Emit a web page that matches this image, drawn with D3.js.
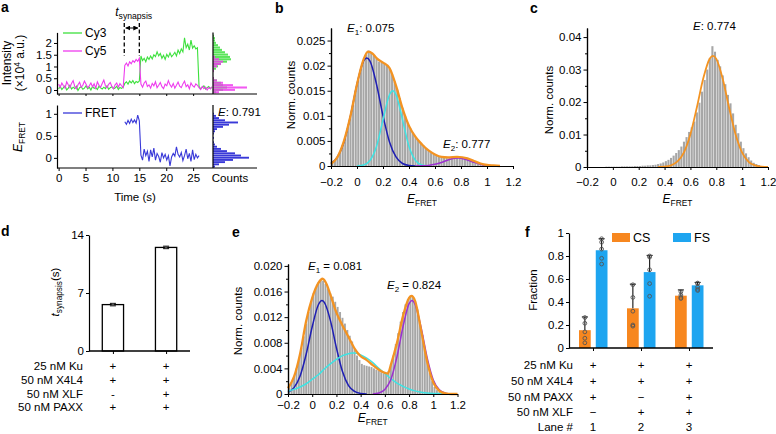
<!DOCTYPE html>
<html><head><meta charset="utf-8">
<script src="https://cdn.jsdelivr.net/npm/d3@7"></script>
<style>
body{margin:0;background:#fff;}
svg{font-family:"Liberation Sans",Arial,Helvetica,sans-serif;}
</style></head><body>
<svg id="fig" width="776" height="434"></svg>
<script>
// ================= DATA =================
// Panel a : single-molecule traces (frame interval in seconds)
const frameInterval = 0.3;
const cy3 = [0.05,0.15,0.02,0.10,0.18,0.00,0.08,0.20,0.04,0.12,0.06,0.16,-0.02,0.10,0.14,0.03,0.08,0.18,0.05,0.12,0.00,0.15,0.07,0.10,0.02,0.16,0.09,0.04,0.12,0.06,0.18,0.03,0.10,0.14,0.05,0.08,0.16,0.02,0.11,0.07,0.12,
 0.28,0.35,0.25,0.38,0.30,0.40,0.27,0.36,0.32,0.38,
 1.45,1.25,1.35,1.20,1.40,1.30,1.45,1.32,1.50,1.42,1.62,1.45,1.55,1.35,1.48,1.30,1.52,1.40,1.58,1.42,1.50,1.60,1.45,1.70,1.55,1.75,1.62,2.22,1.80,1.95,1.70,2.12,1.78,1.88,1.75,1.80,
 0.15,0.05,0.12,0.18,0.04,0.10,0.15,0.06,0.12];
const cy5 = [0.25,0.12,0.30,0.18,0.08,0.35,0.22,0.10,0.28,0.40,0.15,0.05,0.22,0.33,0.12,0.20,0.38,0.25,0.10,0.18,0.30,0.14,0.26,0.08,0.35,0.20,0.12,0.28,0.42,0.18,0.10,0.24,0.32,0.15,0.06,0.22,0.30,0.12,0.27,0.18,0.10,
 1.05,1.15,1.02,1.20,1.12,1.25,1.18,1.30,1.22,1.35,
 0.25,0.12,0.30,0.38,0.15,0.22,0.08,0.28,0.18,0.35,0.10,0.20,0.32,0.14,0.06,0.25,0.18,0.40,0.22,0.12,0.28,0.08,0.20,0.34,0.16,0.10,0.26,0.38,0.14,0.22,0.05,0.30,0.18,0.12,0.26,0.20,
 0.10,0.02,0.15,0.06,0.12,0.00,0.10,0.05,0.14];
const fretStartFrame = 41;
const fretValues = [0.82,0.76,0.85,0.78,0.88,0.80,0.86,0.79,0.97,0.84,
 0.06,-0.05,0.20,0.05,0.15,-0.08,0.18,0.02,0.22,-0.05,0.10,0.03,-0.10,0.12,0.00,0.08,-0.05,0.05,-0.18,0.02,0.10,0.04,0.25,0.08,0.02,0.12,-0.06,0.05,0.20,-0.02,0.10,-0.08,0.18,-0.04,0.08,0.00,0.05];
const synapsisStart = 12.2, synapsisEnd = 15.0;
const fretE = "0.791";
// side histograms of panel a
const intensityBins = [-0.1,0,0.1,0.2,0.3,0.4,0.5,0.6,0.7,0.8,0.9,1.0,1.1,1.2,1.3,1.4,1.5,1.6,1.7,1.8,1.9,2.0,2.1,2.2,2.3];
const cy3Counts = [3,10,14,10,8,4,1,0,0,1,3,5,8,14,18,17,15,12,9,7,5,3,2,2,1];
const cy5Counts = [6,22,34,20,10,4,1,0,0,1,1,4,8,10,6,2,0,0,0,0,0,0,0,0,0];
const fretBins = [-0.2,-0.15,-0.1,-0.05,0,0.05,0.1,0.15,0.2,0.25,0.3,0.35,0.4,0.45,0.5,0.55,0.6,0.65,0.7,0.75,0.8,0.85,0.9,0.95,1.0,1.05,1.1];
const fretCounts = [2,6,12,20,36,28,22,14,8,4,2,1,0,1,0,1,2,4,10,16,25,12,6,3,1,0,0];

// FRET histograms (bins of 0.02 starting at -0.2)
const histStart = -0.2, histBinWidth = 0.02;
const bHist = [0.0006,0.0012,0.0019,0.0028,0.0042,0.0057,0.0075,0.0099,0.0122,0.0150,
 0.0172,0.0193,0.0210,0.0222,0.0230,0.0226,0.0220,0.0214,0.0208,0.0206,
 0.0204,0.0200,0.0194,0.0183,0.0168,0.0152,0.0135,0.0116,0.0100,0.0086,
 0.0075,0.0066,0.0058,0.0052,0.0046,0.0041,0.0036,0.0031,0.0027,0.0024,
 0.0022,0.0020,0.0018,0.0017,0.0017,0.0016,0.0017,0.0018,0.0018,0.0018,
 0.0017,0.0016,0.0014,0.0012,0.0010,0.0008,0.0006,0.0005,0.0003,0.0002,
 0.0002,0.0001,0.0001,0.0001,0,0,0,0,0,0];
const bFitTotal = [[-0.2,0.0004],[-0.15,0.0018],[-0.1,0.005],[-0.05,0.01],[0,0.0163],[0.05,0.0212],[0.085,0.0228],[0.12,0.0224],[0.15,0.0215],[0.2,0.0206],[0.25,0.0195],[0.3,0.016],[0.35,0.0115],[0.4,0.008],[0.45,0.0058],[0.5,0.0043],[0.55,0.0031],[0.6,0.0023],[0.65,0.0018],[0.7,0.0017],[0.77,0.0018],[0.85,0.0015],[0.9,0.001],[0.95,0.0005],[1.0,0.0002],[1.05,0.0001],[1.1,0]];
const bFitE1 = [[-0.2,0.0005],[-0.15,0.0018],[-0.1,0.0048],[-0.05,0.0100],[0,0.0163],[0.05,0.0209],[0.075,0.0215],[0.1,0.0209],[0.15,0.0163],[0.2,0.0100],[0.25,0.0048],[0.3,0.0018],[0.35,0.0005],[0.4,0.0001],[0.45,0]];
const bFitMid = [[0,0],[0.05,0.0002],[0.1,0.0011],[0.15,0.0039],[0.2,0.0092],[0.25,0.0142],[0.275,0.015],[0.3,0.0142],[0.35,0.0092],[0.4,0.0039],[0.45,0.0011],[0.5,0.0002],[0.55,0]];
const bFitE2 = [[0.45,0],[0.5,0.00003],[0.55,0.00012],[0.6,0.00033],[0.65,0.0007],[0.7,0.0012],[0.75,0.00154],[0.777,0.0016],[0.8,0.00156],[0.85,0.0012],[0.9,0.00075],[0.95,0.00036],[1.0,0.00013],[1.05,0.00004],[1.1,0]];
const bLabels = ["0.075","0.777"];

const cHist = [0,0,0,0,0,0,0,0.0001,0.0001,0.0001,
 0.0001,0.0001,0.0001,0.0002,0.0002,0.0002,0.0002,0.0002,0.0003,0.0003,
 0.0003,0.0004,0.0004,0.0005,0.0005,0.0006,0.0007,0.0009,0.0011,0.0014,
 0.0018,0.0022,0.0028,0.0035,0.0043,0.0052,0.0063,0.0078,0.0092,0.0108,
 0.0122,0.0140,0.0168,0.0198,0.0232,0.0268,0.0300,0.0335,0.0372,0.0355,
 0.0330,0.0310,0.0282,0.0255,0.0222,0.0196,0.0165,0.0130,0.0104,0.0078,
 0.0058,0.0042,0.0030,0.0020,0.0013,0.0009,0.0006,0.0003,0.0002,0.0001];
const cFit = [[0.35,0.00003],[0.4,0.00012],[0.45,0.0005],[0.5,0.0017],[0.55,0.0045],[0.6,0.0101],[0.65,0.0184],[0.7,0.0274],[0.75,0.0334],[0.774,0.0342],[0.8,0.0333],[0.85,0.0271],[0.9,0.0181],[0.95,0.0099],[1.0,0.0044],[1.05,0.0016],[1.1,0.0005],[1.15,0.0001],[1.2,0]];
const cLabel = "0.774";

const eHist = [0.0010,0.0018,0.0027,0.0040,0.0055,0.0072,0.0090,0.0110,0.0128,0.0143,
 0.0157,0.0166,0.0174,0.0178,0.0177,0.0172,0.0165,0.0157,0.0152,0.0144,
 0.0136,0.0128,0.0119,0.0110,0.0100,0.0091,0.0082,0.0070,0.0060,0.0053,
 0.0047,0.0045,0.0044,0.0043,0.0042,0.0040,0.0038,0.0036,0.0034,0.0032,
 0.0032,0.0036,0.0046,0.0060,0.0078,0.0095,0.0113,0.0128,0.0140,0.0148,
 0.0152,0.0151,0.0145,0.0132,0.0112,0.0092,0.0070,0.0050,0.0033,0.0020,
 0.0011,0.0006,0.0003,0.0002,0.0001,0,0,0,0,0];
const eFitTotal = [[-0.2,0.0009],[-0.15,0.0027],[-0.1,0.0063],[-0.05,0.0114],[0,0.0150],[0.05,0.0173],[0.085,0.0180],[0.12,0.0171],[0.15,0.0155],[0.2,0.0127],[0.25,0.0107],[0.3,0.0089],[0.35,0.0071],[0.4,0.0059],[0.45,0.0053],[0.5,0.0045],[0.55,0.0038],[0.6,0.0033],[0.625,0.0032],[0.65,0.0046],[0.7,0.0080],[0.75,0.0122],[0.8,0.0150],[0.82,0.0153],[0.85,0.0145],[0.9,0.0099],[0.95,0.0050],[1.0,0.0018],[1.05,0.0005],[1.1,0.0001],[1.15,0],[1.2,0]];
const eFitE1 = [[-0.2,0.0003],[-0.15,0.0010],[-0.1,0.0028],[-0.05,0.0062],[0,0.0105],[0.05,0.0139],[0.081,0.0146],[0.1,0.0143],[0.15,0.0115],[0.2,0.0072],[0.25,0.0035],[0.3,0.0013],[0.35,0.0004],[0.4,0.0001],[0.45,0]];
const eFitMid = [[-0.2,0.00044],[-0.15,0.00072],[-0.1,0.0011],[-0.05,0.0016],[0,0.0023],[0.05,0.0030],[0.1,0.0039],[0.15,0.0047],[0.2,0.0054],[0.25,0.0060],[0.3,0.0063],[0.33,0.0064],[0.35,0.0064],[0.4,0.0061],[0.45,0.0056],[0.5,0.0049],[0.55,0.0040],[0.6,0.0032],[0.65,0.0024],[0.7,0.0017],[0.75,0.0012],[0.8,0.00078],[0.85,0.00049],[0.9,0.00029],[0.95,0.00016],[1.0,0.00009],[1.05,0.00005],[1.1,0]];
const eFitE2 = [[0.5,0],[0.55,0.00015],[0.6,0.0007],[0.65,0.0023],[0.7,0.0058],[0.75,0.0105],[0.8,0.0141],[0.824,0.0146],[0.85,0.0140],[0.9,0.0103],[0.95,0.0056],[1.0,0.0022],[1.05,0.00066],[1.1,0.00014],[1.15,0]];
const eLabels = ["0.081","0.824"];

// Panel d
const dLanes = ["1","2"];
const dMean = [5.6, 12.5];
const dErr = [0.15, 0.15];
const dRows = ["25 nM Ku","50 nM X4L4","50 nM XLF","50 nM PAXX"];
const dMarks = [["+","+"],["+","+"],["-","+"],["+","+"]];
const dTicks = [0,7,14];

// Panel f
const fLanes = ["1","2","3"];
const fSeries = ["CS","FS"];
const csMean = [0.155, 0.345, 0.455];
const csErr = [0.115, 0.21, 0.05];
const fsMean = [0.85, 0.66, 0.545];
const fsErr = [0.10, 0.145, 0.025];
const csDots = [[0.265,0.215,0.14,0.085,0.045],[0.55,0.44,0.32,0.20,0.19],[0.49,0.46,0.44,0.43]];
const fsDots = [[0.95,0.92,0.86,0.78,0.73],[0.80,0.79,0.68,0.56,0.45],[0.565,0.56,0.53,0.51,0.50]];
const fRows = ["25 nM Ku","50 nM X4L4","50 nM PAXX","50 nM XLF","Lane #"];
const fMarks = [["+","+","+"],["+","+","+"],["+","\u2212","+"],["\u2212","+","+"],["1","2","3"]];
const fTicks = [0,0.2,0.4,0.6,0.8,1];

// ================= STYLE =================
const C = {orange:"#F39322", gray:"#A6A6A6", blue:"#1E1EB4", cyan:"#3FE3E3", purple:"#9B30D0",
  cy3:"#3DE03D", cy5:"#EE3CEE", fret:"#3939D8", barOrange:"#F7871F", barBlue:"#1EA5F0"};
const FS = 11.5;
const svg = d3.select("#fig");

function styleAxis(g, fs){
  g.attr("font-family",null).attr("font-size",null);
  g.select(".domain").attr("stroke","#000").attr("stroke-width",1.2);
  g.selectAll(".tick line").attr("stroke","#000").attr("stroke-width",1);
  g.selectAll(".tick text").attr("fill","#000").style("font-size",(fs||FS)+"px");
  return g;
}
function rich(x, y, parts, opts){
  opts = opts||{};
  const fs = opts.fs||FS;
  const t = svg.append("text").attr("x",x).attr("y",y).attr("font-size",fs)
    .attr("text-anchor",opts.anchor||"start").attr("fill","#000");
  if(opts.rotate) t.attr("transform",`rotate(-90,${x},${y})`);
  if(opts.bold) t.attr("font-weight","bold");
  let shift = 0;
  parts.forEach(p=>{
    const s = t.append("tspan").text(p.t);
    const target = p.sub ? 3 : (p.sup ? -4.5 : 0);
    if(target!==shift){ s.attr("dy", target-shift); shift = target; }
    if(p.sub||p.sup) s.attr("font-size", fs*(p.scale||0.7));
    if(p.it) s.attr("font-style","italic");
  });
  return t;
}
const fmtG = d3.format("~g");

// ================= PANEL A =================
const tX = d3.scaleLinear().domain([-0.3,28.6]).range([57,212.5]);
const yTop = d3.scaleLinear().domain([-0.17,2.45]).range([94,32.4]);
const yBot = d3.scaleLinear().domain([-0.23,1.2]).range([168,105]);
const cntX = d3.scaleLinear().domain([0,44]).range([213,257]);

// side histograms
const binH = (scale,c,w)=>Math.abs(scale(c-w/2)-scale(c+w/2));
svg.append("g").selectAll("rect").data(intensityBins).join("rect")
  .attr("x",cntX(0)).attr("y",d=>yTop(d+0.05)).attr("height",d=>binH(yTop,d,0.1)-0.3)
  .attr("width",(d,i)=>cntX(cy3Counts[i])-cntX(0)).attr("fill",C.cy3).attr("opacity",0.85);
svg.append("g").selectAll("rect").data(intensityBins).join("rect")
  .attr("x",cntX(0)).attr("y",d=>yTop(d+0.05)).attr("height",d=>binH(yTop,d,0.1)-0.3)
  .attr("width",(d,i)=>cntX(cy5Counts[i])-cntX(0)).attr("fill",C.cy5).attr("opacity",0.85);
svg.append("g").selectAll("rect").data(fretBins).join("rect")
  .attr("x",cntX(0)).attr("y",d=>yBot(d+0.025)).attr("height",d=>binH(yBot,d,0.05)-0.3)
  .attr("width",(d,i)=>cntX(fretCounts[i])-cntX(0)).attr("fill",C.fret);

// traces
const lineT = d3.line().x(d=>tX(d.t)).y(d=>d.y);
const cy3Pts = cy3.map((v,i)=>({t:i*frameInterval,y:yTop(v)}));
const cy5Pts = cy5.map((v,i)=>({t:i*frameInterval,y:yTop(v)}));
const fretPts = fretValues.map((v,i)=>({t:(fretStartFrame+i)*frameInterval,y:yBot(v)}));
svg.append("path").attr("d",lineT(cy3Pts)).attr("fill","none").attr("stroke",C.cy3).attr("stroke-width",1.1);
svg.append("path").attr("d",lineT(cy5Pts)).attr("fill","none").attr("stroke",C.cy5).attr("stroke-width",1.1);
svg.append("path").attr("d",lineT(fretPts)).attr("fill","none").attr("stroke",C.fret).attr("stroke-width",1.1);

// axes
styleAxis(svg.append("g").attr("transform","translate(57,0)")
  .call(d3.axisLeft(yTop).tickValues([0,0.5,1,1.5,2]).tickFormat(fmtG).tickSize(3).tickPadding(2).tickSizeOuter(0)));
styleAxis(svg.append("g").attr("transform","translate(57,0)")
  .call(d3.axisLeft(yBot).tickValues([0,0.5,1]).tickFormat(fmtG).tickSize(3).tickPadding(2).tickSizeOuter(0)));
const tTicks = [0,5,10,15,20,25];
const topX = styleAxis(svg.append("g").attr("transform","translate(0,94)")
  .call(d3.axisBottom(tX).tickValues(tTicks).tickFormat("").tickSize(2).tickSizeOuter(0)));
topX.select(".domain").remove();
const botX = styleAxis(svg.append("g").attr("transform","translate(0,168)")
  .call(d3.axisBottom(tX).tickValues(tTicks).tickFormat(fmtG).tickSize(3).tickSizeOuter(0)));
botX.select(".domain").remove();
[[94],[168]].forEach(([y])=>svg.append("line").attr("x1",57).attr("x2",257).attr("y1",y).attr("y2",y).attr("stroke","#000").attr("stroke-width",1.2));
svg.append("line").attr("x1",213).attr("x2",213).attr("y1",yTop.range()[1]).attr("y2",94).attr("stroke","#000").attr("stroke-width",1.2);
svg.append("line").attr("x1",213).attr("x2",213).attr("y1",yBot.range()[1]).attr("y2",168).attr("stroke","#000").attr("stroke-width",1.2);

// legends
[[C.cy3,"Cy3",33],[C.cy5,"Cy5",51],[C.fret,"FRET",113]].forEach(([c,l,y])=>{
  svg.append("line").attr("x1",63).attr("x2",82).attr("y1",y).attr("y2",y).attr("stroke",c).attr("stroke-width",1.3);
  svg.append("text").attr("x",85).attr("y",y+4.3).attr("font-size",12).text(l);
});
// t synapsis annotation
[synapsisStart,synapsisEnd].forEach(t=>svg.append("line").attr("x1",tX(t)).attr("x2",tX(t)).attr("y1",23).attr("y2",56)
  .attr("stroke","#000").attr("stroke-width",1.3).attr("stroke-dasharray","4,2.5"));
svg.append("defs").html('<marker id="ah" viewBox="0 0 10 10" refX="9" refY="5" markerWidth="5" markerHeight="5" orient="auto-start-reverse"><path d="M0,0L10,5L0,10z" fill="#000"/></marker>');
svg.append("line").attr("x1",tX(synapsisStart)+1.5).attr("x2",tX(synapsisEnd)-1.5).attr("y1",28).attr("y2",28)
  .attr("stroke","#000").attr("stroke-width",1).attr("marker-start","url(#ah)").attr("marker-end","url(#ah)");
rich(tX(synapsisStart)-9,16,[{t:"t",it:true},{t:"synapsis",sub:true,scale:0.72}],{fs:12});
rich(218,116,[{t:"E",it:true},{t:": "+fretE}]);
svg.append("text").attr("x",230).attr("y",182).attr("text-anchor","middle").attr("font-size",FS).text("Counts");
svg.append("text").attr("x",135).attr("y",201).attr("text-anchor","middle").attr("font-size",FS).text("Time (s)");
rich(11,63,[{t:"Intensity"}],{rotate:true,anchor:"middle",fs:12});
rich(24,63,[{t:"(\u00d710"},{t:"4",sup:true},{t:" a.u.)"}],{rotate:true,anchor:"middle",fs:12});
rich(22,137,[{t:"E",it:true},{t:"FRET",sub:true}],{rotate:true,anchor:"middle",fs:12});

// ================= HISTOGRAM PANELS =================
function histPanel(o){
  const x = d3.scaleLinear().domain([-0.2,1.2]).range([o.left,o.right]);
  const y = d3.scaleLinear().domain([0,o.yMax]).range([o.bottom,o.top]);
  const bw = x(histBinWidth)-x(0);
  svg.append("g").selectAll("rect").data(o.hist).join("rect")
    .attr("x",(d,i)=>x(histStart+i*histBinWidth)+0.25).attr("width",bw-0.5)
    .attr("y",d=>y(d)).attr("height",d=>o.bottom-y(d)).attr("fill",C.gray);
  const line = d3.line().x(d=>x(d[0])).y(d=>y(d[1])).curve(d3.curveMonotoneX);
  o.curves.forEach(c=>svg.append("path").attr("d",line(c.d)).attr("fill","none")
    .attr("stroke",c.color).attr("stroke-width",c.w||1.5).attr("stroke-linejoin","round"));
  styleAxis(svg.append("g").attr("transform",`translate(${o.left},0)`)
    .call(d3.axisLeft(y).tickValues(o.yMinor).tickFormat("").tickSize(2).tickSizeOuter(0)));
  styleAxis(svg.append("g").attr("transform",`translate(${o.left},0)`)
    .call(d3.axisLeft(y).tickValues(o.yTicks).tickFormat(o.fmt).tickSize(3.5).tickPadding(2).tickSizeOuter(0)));
  styleAxis(svg.append("g").attr("transform",`translate(0,${o.bottom})`)
    .call(d3.axisBottom(x).tickValues([-0.2,0,0.2,0.4,0.6,0.8,1,1.2]).tickFormat(fmtG).tickSize(3).tickPadding(o.xPad).tickSizeOuter(0)));
  rich((o.left+o.right)/2, o.titleY, [{t:"E",it:true},{t:"FRET",sub:true}],{anchor:"middle",fs:12});
  rich(o.yTitleX, o.yTitleY, [{t:"Norm. counts"}],{rotate:true,anchor:"middle",fs:FS});
}
histPanel({left:331,right:513,bottom:166,top:28,yMax:0.0275,hist:bHist,
  yTicks:[0,0.005,0.01,0.015,0.02,0.025],yMinor:[0.0025,0.0075,0.0125,0.0175,0.0225],fmt:fmtG,xPad:9,
  curves:[{d:bFitE1,color:C.blue},{d:bFitMid,color:C.cyan},{d:bFitE2,color:C.purple},{d:bFitTotal,color:C.orange,w:2.3}],
  titleY:203,yTitleX:295,yTitleY:95});
histPanel({left:587,right:768,bottom:167,top:28,yMax:0.0428,hist:cHist,
  yTicks:[0,0.01,0.02,0.03,0.04],yMinor:[0.005,0.015,0.025,0.035],fmt:fmtG,xPad:8,
  curves:[{d:cFit,color:C.orange,w:1.8}],
  titleY:203,yTitleX:553,yTitleY:100});
histPanel({left:288,right:457.5,bottom:394,top:264,yMax:0.0203,hist:eHist,
  yTicks:[0,0.004,0.008,0.012,0.016,0.02],yMinor:[0.002,0.006,0.01,0.014,0.018],fmt:d=>d===0?"0":d3.format(".3f")(d),xPad:3.5,
  curves:[{d:eFitE1,color:C.blue},{d:eFitMid,color:C.cyan},{d:eFitE2,color:C.purple},{d:eFitTotal,color:C.orange,w:2.3}],
  titleY:422,yTitleX:242,yTitleY:321});
rich(347,32,[{t:"E",it:true},{t:"1",sub:true},{t:": "+bLabels[0]}]);
rich(443,148,[{t:"E",it:true},{t:"2",sub:true},{t:": "+bLabels[1]}]);
rich(693,30,[{t:"E",it:true},{t:": "+cLabel}]);
rich(308,270,[{t:"E",it:true},{t:"1",sub:true},{t:" = "+eLabels[0]}]);
rich(387,289,[{t:"E",it:true},{t:"2",sub:true},{t:" = "+eLabels[1]}]);

// ================= PANEL D =================
const dY = d3.scaleLinear().domain([0,14]).range([351,235]);
const dX = d3.scaleBand().domain(dLanes).range([89,190]).paddingInner(0.6).paddingOuter(0.25);
svg.append("g").selectAll("rect").data(dMean).join("rect")
  .attr("x",(d,i)=>dX(dLanes[i])).attr("width",dX.bandwidth()).attr("y",d=>dY(d)).attr("height",d=>dY(0)-dY(d))
  .attr("fill","#fff").attr("stroke","#000").attr("stroke-width",1.3);
dMean.forEach((m,i)=>{
  const cx = dX(dLanes[i])+dX.bandwidth()/2;
  svg.append("line").attr("x1",cx).attr("x2",cx).attr("y1",dY(m-dErr[i])).attr("y2",dY(m+dErr[i])).attr("stroke","#000");
  [m-dErr[i],m+dErr[i]].forEach(v=>svg.append("line").attr("x1",cx-3).attr("x2",cx+3).attr("y1",dY(v)).attr("y2",dY(v)).attr("stroke","#000"));
  svg.append("circle").attr("cx",cx).attr("cy",dY(m)).attr("r",1.3).attr("fill","#555");
});
styleAxis(svg.append("g").attr("transform","translate(89,0)")
  .call(d3.axisLeft(dY).tickValues(dTicks).tickFormat(fmtG).tickSize(3).tickPadding(2).tickSizeOuter(0)));
const dXa = styleAxis(svg.append("g").attr("transform","translate(0,351)")
  .call(d3.axisBottom(d3.scalePoint().domain(dLanes).range([dX(dLanes[0])+dX.bandwidth()/2,dX(dLanes[1])+dX.bandwidth()/2])).tickFormat("").tickSize(3)));
dXa.select(".domain").remove();
svg.append("line").attr("x1",89).attr("x2",190).attr("y1",351).attr("y2",351).attr("stroke","#000").attr("stroke-width",1.3);
const dRowY = [370,384,397.5,411];
dRows.forEach((r,j)=>{
  svg.append("text").attr("x",83).attr("y",dRowY[j]).attr("text-anchor","end").attr("font-size",FS).text(r);
  dMarks[j].forEach((m,i)=>svg.append("text").attr("x",dX(dLanes[i])+dX.bandwidth()/2).attr("y",dRowY[j]).attr("text-anchor","middle").attr("font-size",FS).text(m));
});
rich(59,292,[{t:"t",it:true},{t:"synapsis",sub:true,scale:0.72},{t:"(s)"}],{rotate:true,anchor:"middle",fs:FS});

// ================= PANEL F =================
const fY = d3.scaleLinear().domain([0,1]).range([348,233]);
const fX = d3.scaleBand().domain(fLanes).range([569,713]);
const fXi = d3.scaleBand().domain(fSeries).range([-14,14.5]).paddingInner(0.3);
const fData = [
  {s:"CS",mean:csMean,err:csErr,dots:csDots,color:C.barOrange},
  {s:"FS",mean:fsMean,err:fsErr,dots:fsDots,color:C.barBlue}];
fData.forEach(S=>{
  S.mean.forEach((m,i)=>{
    const x0 = fX(fLanes[i])+fX.bandwidth()/2+fXi(S.s);
    const cx = x0+fXi.bandwidth()/2;
    svg.append("rect").attr("x",x0).attr("width",fXi.bandwidth()).attr("y",fY(m)).attr("height",fY(0)-fY(m)).attr("fill",S.color);
    svg.append("line").attr("x1",cx).attr("x2",cx).attr("y1",fY(m)).attr("y2",fY(m+S.err[i])).attr("stroke","#111").attr("stroke-width",1.1);
    svg.append("line").attr("x1",cx-3).attr("x2",cx+3).attr("y1",fY(m+S.err[i])).attr("y2",fY(m+S.err[i])).attr("stroke","#111").attr("stroke-width",1.1);
    S.dots[i].forEach(v=>svg.append("circle").attr("cx",cx).attr("cy",fY(v)).attr("r",1.9)
      .attr("fill","none").attr("stroke","#555").attr("stroke-width",0.9));
  });
});
styleAxis(svg.append("g").attr("transform","translate(569,0)")
  .call(d3.axisLeft(fY).tickValues(fTicks).tickFormat(fmtG).tickSize(3).tickPadding(2).tickSizeOuter(0)));
const fXa = styleAxis(svg.append("g").attr("transform","translate(0,348)")
  .call(d3.axisBottom(d3.scalePoint().domain(fLanes).range([fX(fLanes[0])+fX.bandwidth()/2,fX(fLanes[2])+fX.bandwidth()/2])).tickFormat("").tickSize(3)));
fXa.select(".domain").remove();
svg.append("line").attr("x1",569).attr("x2",713).attr("y1",348).attr("y2",348).attr("stroke","#000").attr("stroke-width",1.3);
// legend
[[C.barOrange,"CS",612],[C.barBlue,"FS",673]].forEach(([c,l,x])=>{
  svg.append("rect").attr("x",x).attr("y",233).attr("width",18).attr("height",9).attr("fill",c);
  svg.append("text").attr("x",x+21).attr("y",242).attr("font-size",12.5).text(l);
});
const fRowY = [369,385,401,416,431];
fRows.forEach((r,j)=>{
  svg.append("text").attr("x",573).attr("y",fRowY[j]).attr("text-anchor","end").attr("font-size",FS).text(r);
  fMarks[j].forEach((m,i)=>svg.append("text").attr("x",fX(fLanes[i])+fX.bandwidth()/2).attr("y",fRowY[j]).attr("text-anchor","middle").attr("font-size",FS).text(m));
});
rich(537,290,[{t:"Fraction"}],{rotate:true,anchor:"middle",fs:FS});

// ================= PANEL LETTERS =================
[["a",1,12],["b",275,13],["c",530,13],["d",1,236],["e",232,237],["f",525,237]].forEach(([l,x,y])=>
  svg.append("text").attr("x",x).attr("y",y).attr("font-size",14).attr("font-weight","bold").text(l));
</script></body></html>
